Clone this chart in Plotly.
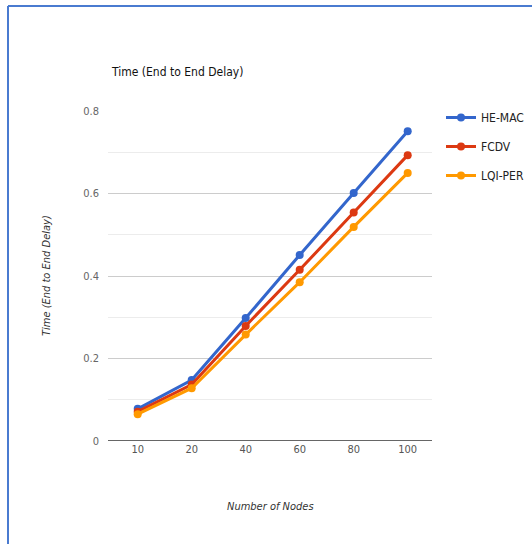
import plotly.graph_objects as go

# Number of nodes (category axis) and end-to-end delay for each protocol
nodes = ["10", "20", "40", "60", "80", "100"]
he_mac = [0.078, 0.148, 0.298, 0.451, 0.601, 0.751]
fcdv = [0.071, 0.137, 0.279, 0.415, 0.554, 0.693]
lqi_per = [0.065, 0.128, 0.258, 0.385, 0.519, 0.650]

series = [
    ("HE-MAC", he_mac, "#3366cc"),
    ("FCDV", fcdv, "#dc3912"),
    ("LQI-PER", lqi_per, "#ff9900"),
]

FONT = "Liberation Sans Narrow, DejaVu Sans Condensed, Arial Narrow, sans-serif"

fig = go.Figure()
for i, (name, vals, color) in enumerate(series):
    fig.add_trace(go.Scatter(
        x=nodes, y=vals, name=name, mode="lines+markers",
        line=dict(color=color, width=3),
        marker=dict(color=color, size=8),
        legendgroup=f"g{i}",
    ))

# plot area spans x 108..432 px and y 111..441 px
L, R, T, B = 108, 100, 111, 103
W, H = 532, 544
pw, ph = W - L - R, H - T - B

def px(x):
    return (x - L) / pw

def py(y):
    return (H - B - y) / ph

fig.update_layout(
    width=W, height=H, autosize=False,
    margin=dict(l=L, r=R, t=T, b=B, pad=0, autoexpand=False),
    paper_bgcolor="white", plot_bgcolor="white",
    font=dict(family=FONT, size=12, color="#222"),
    showlegend=True,
    legend=dict(
        x=px(441), y=py(103), xanchor="left", yanchor="top",
        font=dict(family=FONT, size=12, color="#222"),
        itemwidth=30, tracegroupgap=10,
        bgcolor="rgba(0,0,0,0)",
    ),
    xaxis=dict(
        type="category", range=[-0.55, 5.45],
        showgrid=False, zeroline=False, showline=False,
        ticks="", tickfont=dict(family=FONT, size=11, color="#555"),
    ),
    yaxis=dict(
        range=[0, 0.8], dtick=0.2,
        showgrid=True, gridcolor="#cccccc", gridwidth=1,
        minor=dict(dtick=0.1, showgrid=True, gridcolor="#ececec"),
        zeroline=False, showline=False, ticks="",
        tickfont=dict(family=FONT, size=11, color="#666"),
        ticklabelstandoff=8,
    ),
    shapes=[
        # baseline
        dict(type="line", xref="paper", yref="y", x0=0, x1=1, y0=0, y1=0,
             line=dict(color="#333333", width=1.5), layer="above"),
        # frame along the top and left edges
        dict(type="line", xref="paper", yref="paper",
             x0=px(8), x1=px(W), y0=py(6), y1=py(6),
             line=dict(color="#4a7bd0", width=2)),
        dict(type="line", xref="paper", yref="paper",
             x0=px(8), x1=px(8), y0=py(6), y1=py(H),
             line=dict(color="#4a7bd0", width=2)),
    ],
    annotations=[
        dict(text="Time (End to End Delay)", xref="paper", yref="paper",
             x=px(109), y=py(72), xanchor="left", yanchor="middle",
             showarrow=False, font=dict(family=FONT, size=12, color="#111")),
        dict(text="<i>Number of Nodes</i>", xref="paper", yref="paper",
             x=px(270), y=py(506), xanchor="center", yanchor="middle",
             showarrow=False, font=dict(family=FONT, size=11, color="#333")),
        dict(text="<i>Time (End to End Delay)</i>", xref="paper", yref="paper",
             x=px(46), y=py(276), xanchor="center", yanchor="middle",
             textangle=-90, showarrow=False,
             font=dict(family=FONT, size=11, color="#333")),
    ],
)

fig.write_html("out.html")
